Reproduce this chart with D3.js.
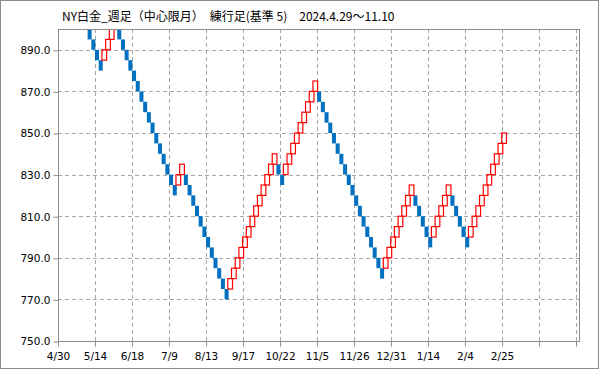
<!DOCTYPE html>
<html>
<head>
<meta charset="utf-8">
<script src="https://cdn.jsdelivr.net/npm/d3@7"></script>
<style>
  html, body { margin: 0; padding: 0; background: #fff; }
  svg { display: block; }
</style>
</head>
<body>
<svg id="chart" width="599" height="369"></svg>
<script>
// ---------------- DATA ----------------
const titleText = "NY白金_週足（中心限月）　練行足(基準 5)　2024.4.29～11.10";
const categoryCount = 141;           // renko brick slots on the category axis
const tickEvery = 10;                // a label every 10 bricks
const tickLabels = ["4/30","5/14","6/18","7/9","8/13","9/17","10/22","11/5","11/26","12/31","1/14","2/4","2/25","",""];
const yTicks = [750, 770, 790, 810, 830, 850, 870, 890];

// brick open / close per category (null = brick lies outside the visible range)
const brickOpen = [
  null,null,null,null,null,null,null,null,
  900,895,890,885, 885,890,895,900,
  900,895,890,885,880,875,870,865,860,855,850,845,840,835,830,825,
  825,830,
  830,825,820,815,810,805,800,795,790,785,780,775,
  775,780,785,790,795,800,805,810,815,820,825,830,835,
  835,830,
  830,835,840,845,850,855,860,865,870,
  870,865,860,855,850,845,840,835,830,825,820,815,810,805,800,795,790,785,
  785,790,795,800,805,810,815,820,
  820,815,810,805,800,
  800,805,810,815,820,
  820,815,810,805,800,
  800,805,810,815,820,825,830,835,840,845
];
const brickClose = [
  null,null,null,null,null,null,null,null,
  895,890,885,880, 890,895,900,905,
  895,890,885,880,875,870,865,860,855,850,845,840,835,830,825,820,
  830,835,
  825,820,815,810,805,800,795,790,785,780,775,770,
  780,785,790,795,800,805,810,815,820,825,830,835,840,
  830,825,
  835,840,845,850,855,860,865,870,875,
  865,860,855,850,845,840,835,830,825,820,815,810,805,800,795,790,785,780,
  790,795,800,805,810,815,820,825,
  815,810,805,800,795,
  805,810,815,820,825,
  815,810,805,800,795,
  805,810,815,820,825,830,835,840,845,850
];

// ---------------- LAYOUT ----------------
const W = 599, H = 369;
const plot = { left: 58, right: 580, top: 29, bottom: 341 };
const upColor = "#ff0000", downColor = "#0070c0";
const gridColor = "#a6a6a6", axisColor = "#8c8c8c";

const svg = d3.select("#chart");

// outer frame
svg.append("rect").attr("x", 0.5).attr("y", 0.5).attr("width", W - 1).attr("height", H - 1)
  .attr("fill", "#fff").attr("stroke", "#8c8c8c");

// title
svg.append("text").attr("x", 62).attr("y", 21)
  .attr("font-family", "'Noto Sans CJK JP', sans-serif").attr("font-size", 12)
  .attr("fill", "#000").text(titleText);

const x = d3.scaleBand().domain(d3.range(categoryCount))
  .range([plot.left, plot.right]).paddingInner(0).paddingOuter(0);
const y = d3.scaleLinear().domain([750, 900]).range([plot.bottom, plot.top]);
const bw = x.bandwidth();
const tickX = i => plot.left + i * tickEvery * bw;

// grid
const g = svg.append("g");
g.selectAll("line.hg").data(yTicks.filter(v => v > 750)).join("line")
  .attr("x1", plot.left).attr("x2", plot.right)
  .attr("y1", d => Math.round(y(d)) + 0.5).attr("y2", d => Math.round(y(d)) + 0.5)
  .attr("stroke", gridColor).attr("stroke-dasharray", "4,3");
g.selectAll("line.vg").data(d3.range(1, tickLabels.length)).join("line")
  .attr("x1", d => Math.round(tickX(d)) + 0.5).attr("x2", d => Math.round(tickX(d)) + 0.5)
  .attr("y1", plot.top).attr("y2", plot.bottom)
  .attr("stroke", gridColor).attr("stroke-dasharray", "4,3");

// bricks
const bricks = brickOpen.map((o, i) => ({ i, o, c: brickClose[i] })).filter(d => d.o != null);
const clip = svg.append("clipPath").attr("id", "pc").append("rect")
  .attr("x", plot.left).attr("y", plot.top)
  .attr("width", plot.right - plot.left).attr("height", plot.bottom - plot.top);
const bg = svg.append("g").attr("clip-path", "url(#pc)");

bg.selectAll("rect.down").data(bricks.filter(d => d.c < d.o)).join("rect")
  .attr("x", d => x(d.i)).attr("width", bw + 0.3)
  .attr("y", d => y(d.o)).attr("height", d => y(d.c) - y(d.o))
  .attr("fill", downColor);

bg.selectAll("rect.up").data(bricks.filter(d => d.c > d.o)).join("rect")
  .attr("x", d => x(d.i) - 0.5).attr("width", bw + 1)
  .attr("y", d => y(d.c)).attr("height", d => y(d.o) - y(d.c))
  .attr("fill", "none").attr("stroke", upColor).attr("stroke-width", 1.2);

// plot frame
svg.append("rect").attr("x", plot.left + 0.5).attr("y", plot.top + 0.5)
  .attr("width", plot.right - plot.left - 1).attr("height", plot.bottom - plot.top)
  .attr("fill", "none").attr("stroke", axisColor);

// y axis
const yAxis = d3.axisLeft(y).tickValues(yTicks).tickFormat(d3.format(".1f")).tickSize(5).tickPadding(3);
const ya = svg.append("g").attr("transform", `translate(${plot.left + 0.5},0.5)`).call(yAxis);
ya.select(".domain").remove();
ya.selectAll(".tick line").attr("stroke", axisColor);
ya.selectAll("text").attr("font-family", "'DejaVu Sans', sans-serif").attr("font-size", 10.5).attr("fill", "#000");

// x axis (category ticks every 10 bricks)
const xTickScale = d3.scaleLinear().domain([0, 1]).range([0, tickEvery * bw]);
const xa = svg.append("g").attr("transform", `translate(0,${plot.bottom + 0.5})`);
const xt = xa.selectAll("g").data(d3.range(tickLabels.length)).join("g")
  .attr("transform", d => `translate(${Math.round(plot.left + xTickScale(d)) + 0.5},0)`);
xt.append("line").attr("y1", 0).attr("y2", 5).attr("stroke", axisColor);
xt.append("text").attr("y", 18).attr("text-anchor", "middle")
  .attr("font-family", "'DejaVu Sans', sans-serif").attr("font-size", 10.5).attr("fill", "#000")
  .text((d) => tickLabels[d]);
</script>
</body>
</html>
